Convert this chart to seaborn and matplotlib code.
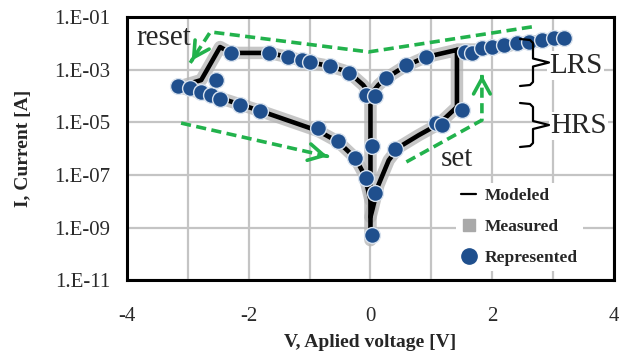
import numpy as np
import pandas as pd
import matplotlib
matplotlib.use("Agg")
import matplotlib.pyplot as plt
import matplotlib.transforms as mtransforms
from matplotlib.lines import Line2D
from matplotlib.ticker import FixedLocator, FuncFormatter, NullLocator
import seaborn as sns

# modeled I-V loop, negative sweep (0 -> reset -> HRS back to 0)
neg_v = [0.0, -0.12, -0.36, -0.69, -1.0, -1.35, -1.66, -2.29, -2.47, -2.78, -3.16,
         -2.83, -2.47, -1.81, -0.86, -0.53, -0.25, -0.10, 0.0, 0.0]
neg_i = [1.1e-4, 2.6e-4, 8.1e-4, 1.4e-3, 1.9e-3, 3.0e-3, 4.3e-3, 4.3e-3, 7.2e-3, 4.0e-4, 2.2e-4,
         1.4e-4, 8.3e-5, 2.7e-5, 4.7e-6, 1.8e-6, 4.4e-7, 1.0e-7, 1.1e-8, 3.3e-10]
# positive sweep (HRS -> set -> LRS -> back to 0)
pos_v = [0.0, 0.03, 0.13, 0.30, 0.46, 0.79, 1.12, 1.42, 1.42, 1.78, 2.1, 2.6, 3.2,
         2.6, 2.1, 1.78, 1.42, 0.91, 0.58, 0.26, 0.13, 0.0, 0.0]
pos_i = [2.5e-9, 4.6e-9, 4.1e-8, 3.6e-7, 1.1e-6, 3.2e-6, 8.5e-6, 3.8e-5, 5.6e-3, 5.6e-3, 7.2e-3, 1.1e-2, 1.6e-2,
         1.1e-2, 7.2e-3, 5.6e-3, 5.6e-3, 3.0e-3, 1.4e-3, 4.8e-4, 2.6e-4, 1.1e-4, 1.1e-8]

# represented points
rep_v = [-2.29, -1.66, -1.35, -1.12, -0.99, -0.66, -0.36, -0.07, 0.07,
         0.26, 0.58, 0.91, 1.56, 1.67, 1.83, 2.0, 2.19, 2.40, 2.60, 2.81, 3.01, 3.18,
         -3.16, -2.97, -2.78, -2.62, -2.53, -2.47, -2.14, -1.81,
         -0.86, -0.54, -0.25, -0.08, 0.08, 0.02, 0.03, 0.41, 1.07, 1.17, 1.50]
rep_i = [4.3e-3, 4.3e-3, 3.0e-3, 2.3e-3, 1.9e-3, 1.4e-3, 7.4e-4, 1.1e-4, 1.0e-4,
         4.8e-4, 1.5e-3, 3.0e-3, 4.7e-3, 4.2e-3, 6.6e-3, 7.4e-3, 8.7e-3, 1.0e-2, 1.15e-2, 1.35e-2, 1.6e-2, 1.6e-2,
         2.4e-4, 1.95e-4, 1.45e-4, 1.1e-4, 4.0e-4, 7.6e-5, 4.5e-5, 2.7e-5,
         6.0e-6, 1.9e-6, 4.4e-7, 7.6e-8, 2.0e-8, 5.1e-10, 1.3e-6, 1.0e-6, 9.3e-6, 7.8e-6, 2.9e-5]

x_ticks = [-4, -2, 0, 2, 4]
y_ticks = [1e-11, 1e-9, 1e-7, 1e-5, 1e-3, 1e-1]

green = "#22b24c"
blue = "#1f4f8d"

df = pd.concat([
    pd.DataFrame({"V": neg_v, "I": neg_i, "branch": "neg"}),
    pd.DataFrame({"V": pos_v, "I": pos_i, "branch": "pos"}),
], ignore_index=True)

sns.set_style("white")
plt.rcParams["font.family"] = ["Liberation Serif", "DejaVu Serif"]

fig, ax = plt.subplots(figsize=(6.19, 3.61), dpi=100)
fig.subplots_adjust(left=0.205, right=0.992, top=0.953, bottom=0.224)
ax.set_yscale("log")

# measured = grey halo, modeled = black line
sns.lineplot(data=df, x="V", y="I", units="branch", estimator=None, sort=False,
             color="#b4b4b4", lw=9, alpha=0.75, ax=ax, zorder=2)
sns.lineplot(data=df, x="V", y="I", units="branch", estimator=None, sort=False,
             color="black", lw=3.3, ax=ax, zorder=3)
sns.scatterplot(x=rep_v, y=rep_i, s=130, color=blue, edgecolor="#d8e2ee", linewidth=1.0,
                ax=ax, zorder=5)

ax.set_xlim(-4, 4)
ax.set_ylim(1e-11, 1e-1)
ax.xaxis.set_major_locator(FixedLocator(x_ticks))
ax.xaxis.set_minor_locator(FixedLocator([-3, -1, 1, 3]))
ax.yaxis.set_major_locator(FixedLocator(y_ticks))
ax.yaxis.set_minor_locator(NullLocator())
ax.yaxis.set_major_formatter(FuncFormatter(lambda y, p: "1.E-%02d" % round(-np.log10(y))))
ax.xaxis.set_major_formatter(FuncFormatter(lambda x, p: "%d" % x))
ax.grid(True, which="both", color="#c4c4c4", lw=1.6, zorder=0)
ax.set_axisbelow(True)
ax.tick_params(axis="both", which="both", length=0, labelsize=15, colors="#2a2a2a")
ax.tick_params(axis="y", pad=12)
ax.tick_params(axis="x", pad=19)
for s in ax.spines.values():
    s.set_color("black")
    s.set_linewidth(2.2)

ax.set_xlabel("V, Aplied voltage [V]", fontsize=14, fontweight="bold")
ax.set_ylabel("I, Current [A]", fontsize=14, fontweight="bold")
ax.xaxis.set_label_coords(0.5, -0.205)
ax.yaxis.set_label_coords(-0.195, 0.5)

# green dashed sweep arrows
dash = dict(color=green, lw=2.6, ls=(0, (2.8, 1.5)), zorder=4)
ax.plot([2.65, -0.03, -2.63, -2.96], [4.2e-2, 4.7e-3, 2.7e-2, 1.8e-3], **dash)
ax.plot([-3.11, -0.66], [9.3e-6, 4.8e-7], **dash)
ax.plot([0.59, 1.83, 1.83], [3.1e-7, 1.2e-5, 6.3e-4], **dash)
head = dict(arrowstyle="->,head_length=1.1,head_width=0.6", color=green, lw=2.6)
ax.annotate("", xy=(-2.96, 1.8e-3), xytext=(2.2, 3.4), textcoords="offset points", arrowprops=head, zorder=4)
ax.annotate("", xy=(-0.66, 4.8e-7), xytext=(-4.0, 0.9), textcoords="offset points", arrowprops=head, zorder=4)
ax.annotate("", xy=(1.83, 6.3e-4), xytext=(0, -4.0), textcoords="offset points", arrowprops=head, zorder=4)

ax.text(-3.85, 8.7e-3, "reset", fontsize=21, va="baseline", zorder=6)
ax.text(1.15, 2.1e-7, "set", fontsize=21, va="baseline", zorder=6)
ax.text(2.93, 7.6e-4, "LRS", fontsize=21, va="baseline", zorder=6,
        bbox=dict(facecolor="white", edgecolor="none", pad=1))
ax.text(2.95, 3.9e-6, "HRS", fontsize=21, va="baseline", zorder=6,
        bbox=dict(facecolor="white", edgecolor="none", pad=1))

# curly braces, drawn in figure pixel coordinates
px = mtransforms.Affine2D().scale(1 / 619, -1 / 361).translate(0, 1) + fig.transFigure


def brace(top, bot, x0=520, x1=533, tip=549):
    mid = (top + bot) / 2
    xs = [x0, x1 - 3, x1, x1, tip, x1, x1, x1 - 3, x0]
    ys = [top, top + 1, top + 4, mid - 4, mid, mid + 4, bot - 4, bot - 1, bot]
    fig.add_artist(Line2D(xs, ys, transform=px, color="black", lw=1.6, zorder=7))


brace(39, 86)
brace(103, 147)

handles = [
    Line2D([0], [0], color="black", lw=1.6),
    Line2D([0], [0], color="#a9a9a9", marker="s", ls="none", markersize=9),
    Line2D([0], [0], color=blue, marker="o", ls="none", markersize=11),
]
leg = ax.legend(handles, ["Modeled", "Measured", "Represented"], loc="lower right",
                bbox_to_anchor=(0.955, 0.0), frameon=True, fancybox=False,
                prop={"family": "Liberation Serif", "weight": "bold", "size": 12.5},
                handlelength=0.9, handletextpad=0.5, labelspacing=0.85, borderpad=0.3)
leg.get_frame().set_edgecolor("none")
leg.get_frame().set_facecolor("white")
leg.get_frame().set_alpha(1)

fig.savefig("out.png", dpi=100)
